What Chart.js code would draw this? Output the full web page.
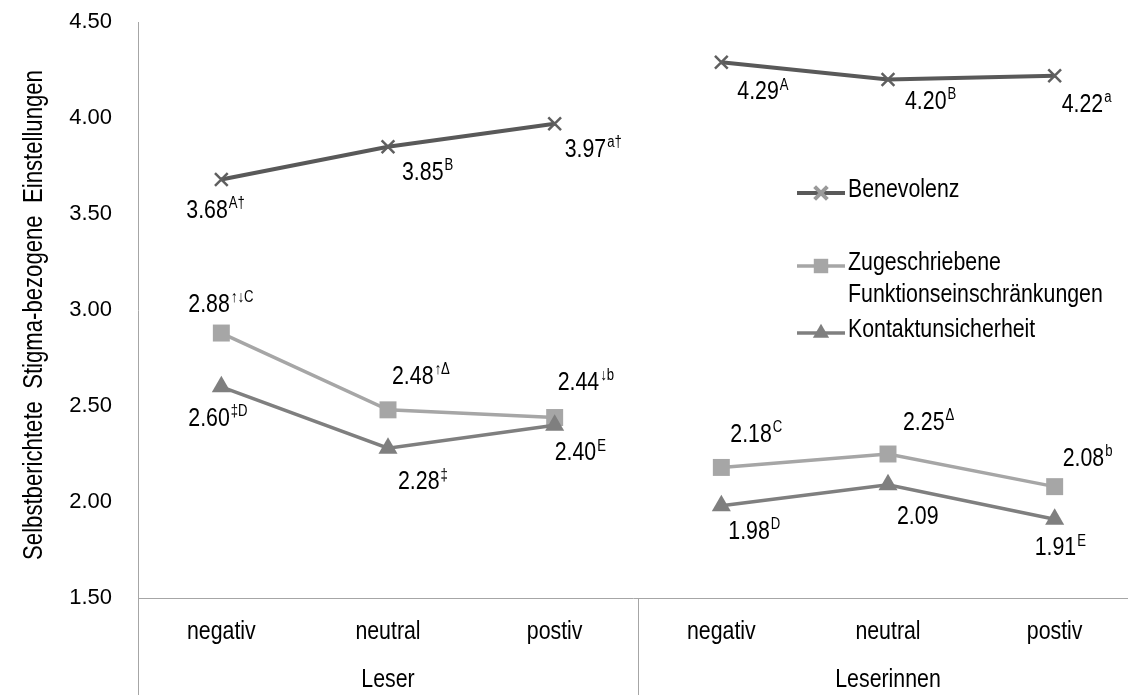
<!DOCTYPE html>
<html>
<head>
<meta charset="utf-8">
<script src="https://cdn.jsdelivr.net/npm/chart.js@4.4.1/dist/chart.umd.min.js"></script>
<style>
  html, body { margin: 0; padding: 0; background: #fff; overflow: hidden; }
</style>
</head>
<body>
<canvas id="chart" width="1128" height="695"></canvas>
<script>
// categories and groups
const categories = ['negativ', 'neutral', 'postiv', 'negativ', 'neutral', 'postiv'];
const groups = ['Leser', 'Leserinnen'];

// series values
const benevolenz = [3.68, 3.85, 3.97, 4.29, 4.20, 4.22];
const funktion = [2.88, 2.48, 2.44, 2.18, 2.25, 2.08];
const kontakt = [2.60, 2.28, 2.40, 1.98, 2.09, 1.91];

// superscript marks after each value
const benevolenzMarks = ['A†', 'B', 'a†', 'A', 'B', 'a'];
const funktionMarks = ['↑↓C', '↑Δ', '↓b', 'C', 'Δ', 'b'];
const kontaktMarks = ['‡D', '‡', 'E', 'D', '', 'E'];

// label placement (offset from the point, text left edge / middle)
const benevolenzDx = [-35, 14, 10, 16, 17, 7];
const benevolenzDy = [31, 26, 26, 30, 22, 29];
const funktionDx = [-33, 4, 3, 9, 15, 8];
const funktionDy = [-28, -33, -35, -33, -31, -28];
const kontaktDx = [-33, 10, 0, 7, 9, -20];
const kontaktDy = [32, 34, 28, 26, 32, 29];

const FONT = "'Liberation Sans', Arial, sans-serif";
const SQUEEZE = 0.82; // no narrow font installed, so condense by hand
const AXIS = '#a6a6a6';

function points(values) {
  return values.map((v, i) => ({ x: i, y: v }));
}

// draws condensed text like Arial Narrow
function narrowText(ctx, txt, x, y, size, align) {
  ctx.save();
  ctx.font = size + 'px ' + FONT;
  ctx.textAlign = align || 'left';
  ctx.textBaseline = 'middle';
  ctx.translate(x, y);
  ctx.scale(SQUEEZE, 1);
  ctx.fillText(txt, 0, 0);
  const w = ctx.measureText(txt).width * SQUEEZE;
  ctx.restore();
  return w;
}

// no line between the two groups
const gap = { borderColor: c => c.p0DataIndex === 2 ? 'rgba(0,0,0,0)' : undefined };

const series = [
  { label: 'Benevolenz', data: points(benevolenz), marks: benevolenzMarks, dx: benevolenzDx, dy: benevolenzDy,
    borderColor: '#595959', borderWidth: 4, pointStyle: 'crossRot', pointRadius: 9, pointBorderWidth: 2.5,
    pointBorderColor: '#5f5f5f', pointBackgroundColor: '#5f5f5f', order: 2 },
  { label: 'Zugeschriebene Funktionseinschränkungen', data: points(funktion), marks: funktionMarks, dx: funktionDx, dy: funktionDy,
    borderColor: '#a6a6a6', borderWidth: 3.5, pointStyle: 'rect', pointRadius: 12, pointBorderWidth: 0,
    pointBorderColor: '#a6a6a6', pointBackgroundColor: '#a6a6a6', order: 1 },
  { label: 'Kontaktunsicherheit', data: points(kontakt), marks: kontaktMarks, dx: kontaktDx, dy: kontaktDy,
    borderColor: '#7f7f7f', borderWidth: 3.5, pointStyle: 'triangle', pointRadius: 11, pointBorderWidth: 0,
    pointBorderColor: '#7f7f7f', pointBackgroundColor: '#7f7f7f', order: 0 }
];
series.forEach(s => { s.segment = gap; s.fill = false; s.tension = 0; });

const legendItems = [
  { ds: 0, y: 193, lines: ['Benevolenz'] },
  { ds: 1, y: 266, lines: ['Zugeschriebene', 'Funktionseinschränkungen'] },
  { ds: 2, y: 333, lines: ['Kontaktunsicherheit'] }
];

const valueLabels = {
  id: 'valueLabels',
  afterDatasetsDraw(chart) {
    const ctx = chart.ctx;
    ctx.save();
    ctx.fillStyle = '#000';
    chart.data.datasets.forEach((ds, di) => {
      chart.getDatasetMeta(di).data.forEach((pt, i) => {
        const txt = ds.data[i].y.toFixed(2);
        const x = pt.x + ds.dx[i];
        const y = pt.y + ds.dy[i];
        const w = narrowText(ctx, txt, x, y, 26);
        narrowText(ctx, ds.marks[i], x + w + 1, y - 7, 16);
      });
    });
    ctx.restore();
  }
};

const extras = {
  id: 'extras',
  afterDraw(chart) {
    const { ctx, chartArea, scales: { x } } = chart;
    ctx.save();
    ctx.strokeStyle = AXIS;
    ctx.lineWidth = 1;
    [x.left, x.getPixelForValue(2.5)].forEach(px => {
      const p = Math.round(px) + 0.5;
      ctx.beginPath();
      ctx.moveTo(p, chartArea.bottom);
      ctx.lineTo(p, chart.height);
      ctx.stroke();
    });
    ctx.fillStyle = '#000';
    // category and group labels
    categories.forEach((c, i) => narrowText(ctx, c, x.getPixelForValue(i), 632, 26, 'center'));
    groups.forEach((g, i) => narrowText(ctx, g, x.getPixelForValue(1 + i * 3), 680, 26, 'center'));

    // y axis title
    ctx.save();
    ctx.translate(35, (chartArea.top + chartArea.bottom) / 2 + 5);
    ctx.rotate(-Math.PI / 2);
    narrowText(ctx, 'Selbstberichtete  Stigma-bezogene  Einstellungen', 0, 0, 27, 'center');
    ctx.restore();

    // legend
    legendItems.forEach(item => {
      const ds = chart.data.datasets[item.ds];
      ctx.strokeStyle = ds.borderColor;
      ctx.lineWidth = ds.borderWidth;
      ctx.beginPath();
      ctx.moveTo(797, item.y);
      ctx.lineTo(845, item.y);
      ctx.stroke();
      ctx.fillStyle = ds.pointBackgroundColor;
      ctx.strokeStyle = item.ds === 0 ? '#9a9a9a' : ds.pointBorderColor;
      Chart.helpers.drawPoint(ctx, {
        pointStyle: ds.pointStyle, rotation: 0,
        radius: item.ds === 0 ? 9 : ds.pointRadius * 0.85,
        borderWidth: item.ds === 0 ? 1.5 : 0
      }, 821, item.y);
      ctx.fillStyle = '#000';
      item.lines.forEach((ln, k) => narrowText(ctx, ln, 848, item.y - 3 + k * 32, 26));
    });
    ctx.restore();
  }
};

new Chart(document.getElementById('chart'), {
  type: 'line',
  data: { datasets: series },
  options: {
    responsive: false,
    animation: false,
    layout: { autoPadding: false, padding: { top: 22, right: 0, left: 0, bottom: 0 } },
    plugins: { legend: { display: false }, tooltip: { enabled: false } },
    scales: {
      x: {
        type: 'linear',
        min: -0.5,
        max: 5.44,
        afterBuildTicks: s => { s.ticks = categories.map((_, i) => ({ value: i })); },
        afterFit: s => { s.height = 97; },
        grid: { display: false },
        border: { color: AXIS, width: 1 },
        ticks: { display: false }
      },
      y: {
        min: 1.5,
        max: 4.5,
        afterFit: s => { s.width = 138; },
        // invisible tick marks give the gap, so label padding doesn't push the top down
        grid: { display: true, drawOnChartArea: false, drawTicks: true, tickLength: 26, color: 'rgba(0,0,0,0)' },
        border: { color: AXIS, width: 1 },
        ticks: {
          stepSize: 0.5,
          callback: v => v.toFixed(2),
          padding: 0,
          color: '#000',
          font: { family: FONT, size: 22 }
        }
      }
    }
  },
  plugins: [valueLabels, extras]
});
</script>
</body>
</html>
